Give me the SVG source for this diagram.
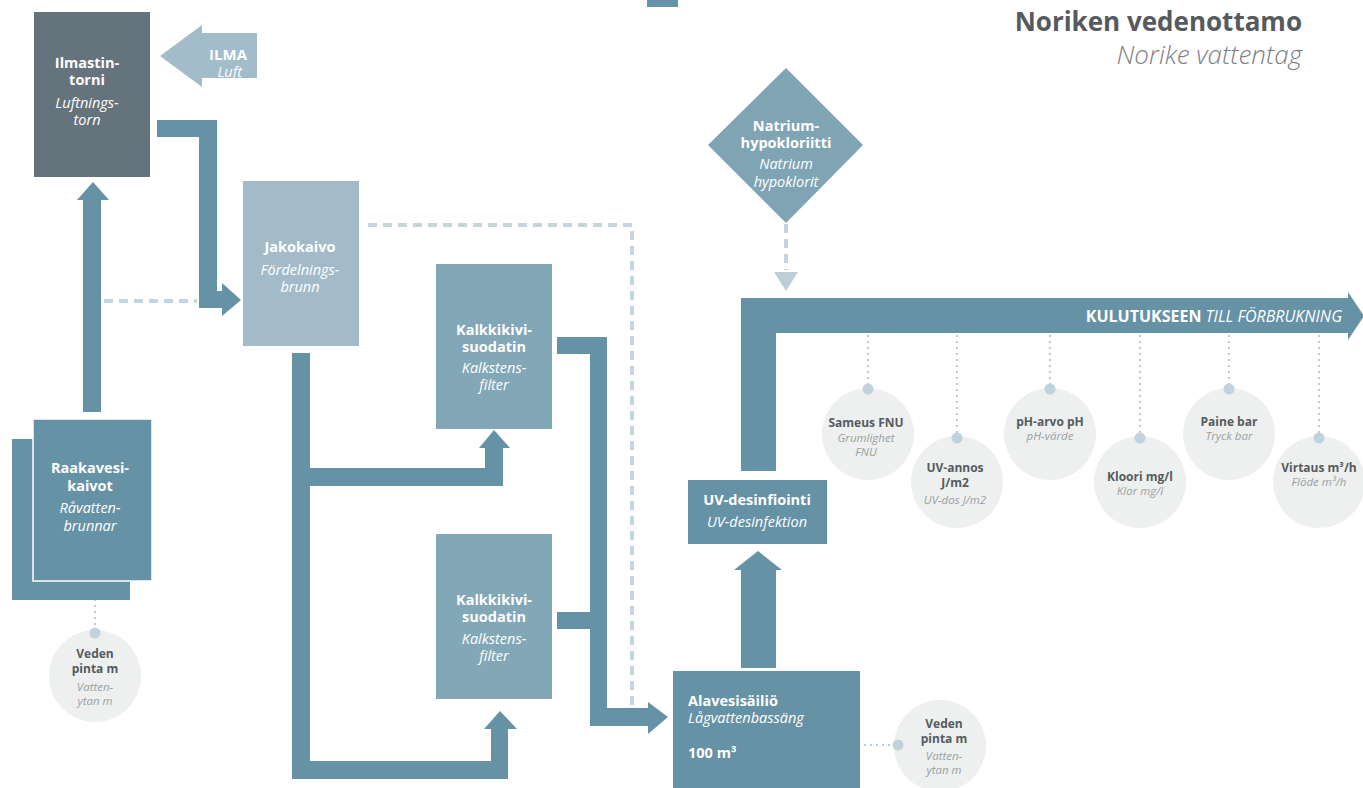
<svg xmlns="http://www.w3.org/2000/svg" width="1363" height="788" viewBox="0 0 1363 788">
<style>
text{font-family:"Open Sans","Noto Sans","Liberation Sans",sans-serif}
.w{fill:#ffffff;font-size:14.5px;text-anchor:middle}
.b{font-weight:bold}
.i{font-style:italic}
.flow{fill:#6592a5}
.dash{fill:none;stroke:#c3d5de;stroke-width:4;stroke-dasharray:9 6}
.dot{fill:none;stroke:#b8cdd7;stroke-width:2;stroke-dasharray:2 4}
.pin{fill:#c0d3dd}
.gauge{fill:#edf0ef}
.gb{fill:#555b5f;font-size:12px;font-weight:bold;text-anchor:middle}
.gi{fill:#9a9fa2;font-size:11.5px;font-style:italic;text-anchor:middle}
</style>
<rect width="1363" height="788" fill="#ffffff"/>
<g id="title">
<text x="1302" y="31" text-anchor="end" font-size="26" font-weight="bold" fill="#555a5e">Noriken vedenottamo</text>
<text x="1302" y="64" text-anchor="end" font-size="26" font-style="italic" font-weight="300" fill="#7b8084">Norike vattentag</text>
</g>
<g id="connectors">
<rect class="flow" x="647" y="0" width="31" height="7"/>
<polygon class="flow" points="83,412 83,200 77,200 93,182 109,200 101,200 101,412"/>
<line class="dash" x1="104" y1="301" x2="197" y2="301"/>
<polygon class="flow" points="157,120 217,120 217,291 222,291 222,283 241,300 222,316 222,308 199,308 199,137 157,137"/>
<polyline class="dash" points="368,225 632,225 632,708"/>
<polygon class="flow" points="292,353 310,353 310,468 485,468 485,448 479,448 494,430 510,448 503,448 503,486 310,486 310,761 491,761 491,729 484,729 500,711 517,729 508,729 508,779 292,779"/>
<polygon class="flow" points="557,337 607,337 607,708 648,708 648,702 668,717 648,734 648,726 590,726 590,629 557,629 557,612 590,612 590,354 557,354"/>
<polygon class="flow" points="741,668 741,570 734,570 758,551 782,570 776,570 776,668"/>
<polygon class="flow" points="741,471 741,298 1348,298 1348,292 1364,316 1348,340 1348,333 776,333 776,471"/>
<line class="dash" x1="786" y1="224" x2="786" y2="270"/>
<polygon fill="#bccfd8" points="774,272 798,272 786,291"/>
<line class="dot" x1="95" y1="563" x2="95" y2="630"/>
<line class="dot" x1="828" y1="745" x2="895" y2="745"/>
<line class="dot" x1="868" y1="335" x2="868" y2="385"/>
<line class="dot" x1="957" y1="335" x2="957" y2="435"/>
<line class="dot" x1="1050" y1="335" x2="1050" y2="385"/>
<line class="dot" x1="1140" y1="335" x2="1140" y2="435"/>
<line class="dot" x1="1229" y1="335" x2="1229" y2="385"/>
<line class="dot" x1="1319" y1="335" x2="1319" y2="435"/>
</g>
<g id="ilmastintorni">
<rect x="34" y="12" width="116" height="165" fill="#65737d"/>
<text class="w b" x="87" y="68">Ilmastin-</text>
<text class="w b" x="87" y="85">torni</text>
<text class="w i" x="87" y="108">Luftnings-</text>
<text class="w i" x="87" y="125">torn</text>
</g>
<g id="ilma">
<polygon fill="#a3bcc9" points="160,56 202,25 202,33 257,33 257,78 202,78 202,87"/>
<text x="247" y="60" fill="#fff" font-size="15" font-weight="bold" text-anchor="end">ILMA</text>
<text x="242" y="77" fill="#fff" font-size="14.5" font-style="italic" text-anchor="end">Luft</text>
</g>
<g id="jakokaivo">
<rect x="243" y="181" width="116" height="165" fill="#a3bbc8"/>
<text class="w b" x="300" y="252">Jakokaivo</text>
<text class="w i" x="300" y="275">Fördelnings-</text>
<text class="w i" x="300" y="292">brunn</text>
</g>
<g id="raakavesi">
<rect x="12" y="439" width="118" height="161" fill="#6592a5"/>
<rect x="33" y="419" width="119" height="162" fill="#6592a5" stroke="#ffffff" stroke-width="1.5"/>
<text class="w b" x="90" y="473">Raakavesi-</text>
<text class="w b" x="90" y="491">kaivot</text>
<text class="w i" x="90" y="513">Råvatten-</text>
<text class="w i" x="90" y="531">brunnar</text>
</g>
<g id="veden1">
<circle class="gauge" cx="95" cy="676" r="46"/>
<circle class="pin" cx="95" cy="633" r="5.5"/>
<text class="gb" x="95" y="658">Veden</text>
<text class="gb" x="95" y="673">pinta m</text>
<text class="gi" x="95" y="691">Vatten-</text>
<text class="gi" x="95" y="705">ytan m</text>
</g>
<g id="kalkki1">
<rect x="436" y="264" width="116" height="165" fill="#82a7b7"/>
<text class="w b" x="494" y="335">Kalkkikivi-</text>
<text class="w b" x="494" y="352">suodatin</text>
<text class="w i" x="494" y="373">Kalkstens-</text>
<text class="w i" x="494" y="390">filter</text>
</g>
<g id="kalkki2">
<rect x="436" y="534" width="116" height="165" fill="#82a7b7"/>
<text class="w b" x="494" y="605">Kalkkikivi-</text>
<text class="w b" x="494" y="622">suodatin</text>
<text class="w i" x="494" y="644">Kalkstens-</text>
<text class="w i" x="494" y="661">filter</text>
</g>
<g id="natrium">
<polygon fill="#7fa5b5" points="786,68 863,145 786,223 708,145"/>
<text class="w b" x="786" y="131">Natrium-</text>
<text class="w b" x="786" y="148">hypokloriitti</text>
<text class="w i" x="786" y="169">Natrium</text>
<text class="w i" x="786" y="187">hypoklorit</text>
</g>
<g id="kulutus">
<text x="1342" y="322" fill="#fff" font-size="16" text-anchor="end"><tspan font-weight="bold">KULUTUKSEEN </tspan><tspan font-style="italic">TILL FÖRBRUKNING</tspan></text>
</g>
<g id="uv">
<rect x="688" y="480" width="139" height="64" fill="#6592a5"/>
<text class="w b" x="757" y="505">UV-desinfiointi</text>
<text class="w i" x="757" y="527">UV-desinfektion</text>
</g>
<g id="alavesi">
<rect x="673" y="671" width="187" height="120" fill="#6592a5"/>
<text x="688" y="706" fill="#fff" font-size="14.5" font-weight="bold">Alavesisäiliö</text>
<text x="688" y="723" fill="#fff" font-size="14.5" font-style="italic">Lågvattenbassäng</text>
<text x="688" y="758" fill="#fff" font-size="14.5" font-weight="bold">100 m³</text>
</g>
<g id="veden2">
<circle class="gauge" cx="940" cy="746" r="46"/>
<circle class="pin" cx="898" cy="745" r="5.5"/>
<text class="gb" x="944" y="728">Veden</text>
<text class="gb" x="944" y="743">pinta m</text>
<text class="gi" x="944" y="760">Vatten-</text>
<text class="gi" x="944" y="774">ytan m</text>
</g>
<g id="sameus">
<circle class="gauge" cx="868" cy="434" r="46"/>
<circle class="pin" cx="868" cy="389" r="5.5"/>
<text class="gb" x="866" y="427">Sameus FNU</text>
<text class="gi" x="866" y="442">Grumlighet</text>
<text class="gi" x="866" y="456">FNU</text>
</g>
<g id="uvannos">
<circle class="gauge" cx="957" cy="482" r="46"/>
<circle class="pin" cx="957" cy="438" r="5.5"/>
<text class="gb" x="955" y="472">UV-annos</text>
<text class="gb" x="955" y="487">J/m2</text>
<text class="gi" x="955" y="504">UV-dos J/m2</text>
</g>
<g id="ph">
<circle class="gauge" cx="1050" cy="434" r="46"/>
<circle class="pin" cx="1050" cy="389" r="5.5"/>
<text class="gb" x="1050" y="426">pH-arvo pH</text>
<text class="gi" x="1050" y="440">pH-värde</text>
</g>
<g id="kloori">
<circle class="gauge" cx="1140" cy="482" r="46"/>
<circle class="pin" cx="1140" cy="438" r="5.5"/>
<text class="gb" x="1140" y="481">Kloori mg/l</text>
<text class="gi" x="1140" y="495">Klor mg/l</text>
</g>
<g id="paine">
<circle class="gauge" cx="1229" cy="434" r="46"/>
<circle class="pin" cx="1229" cy="389" r="5.5"/>
<text class="gb" x="1229" y="426">Paine bar</text>
<text class="gi" x="1229" y="440">Tryck bar</text>
</g>
<g id="virtaus">
<circle class="gauge" cx="1319" cy="482" r="46"/>
<circle class="pin" cx="1319" cy="438" r="5.5"/>
<text class="gb" x="1319" y="472">Virtaus m³/h</text>
<text class="gi" x="1319" y="486">Flöde m³/h</text>
</g>
</svg>
